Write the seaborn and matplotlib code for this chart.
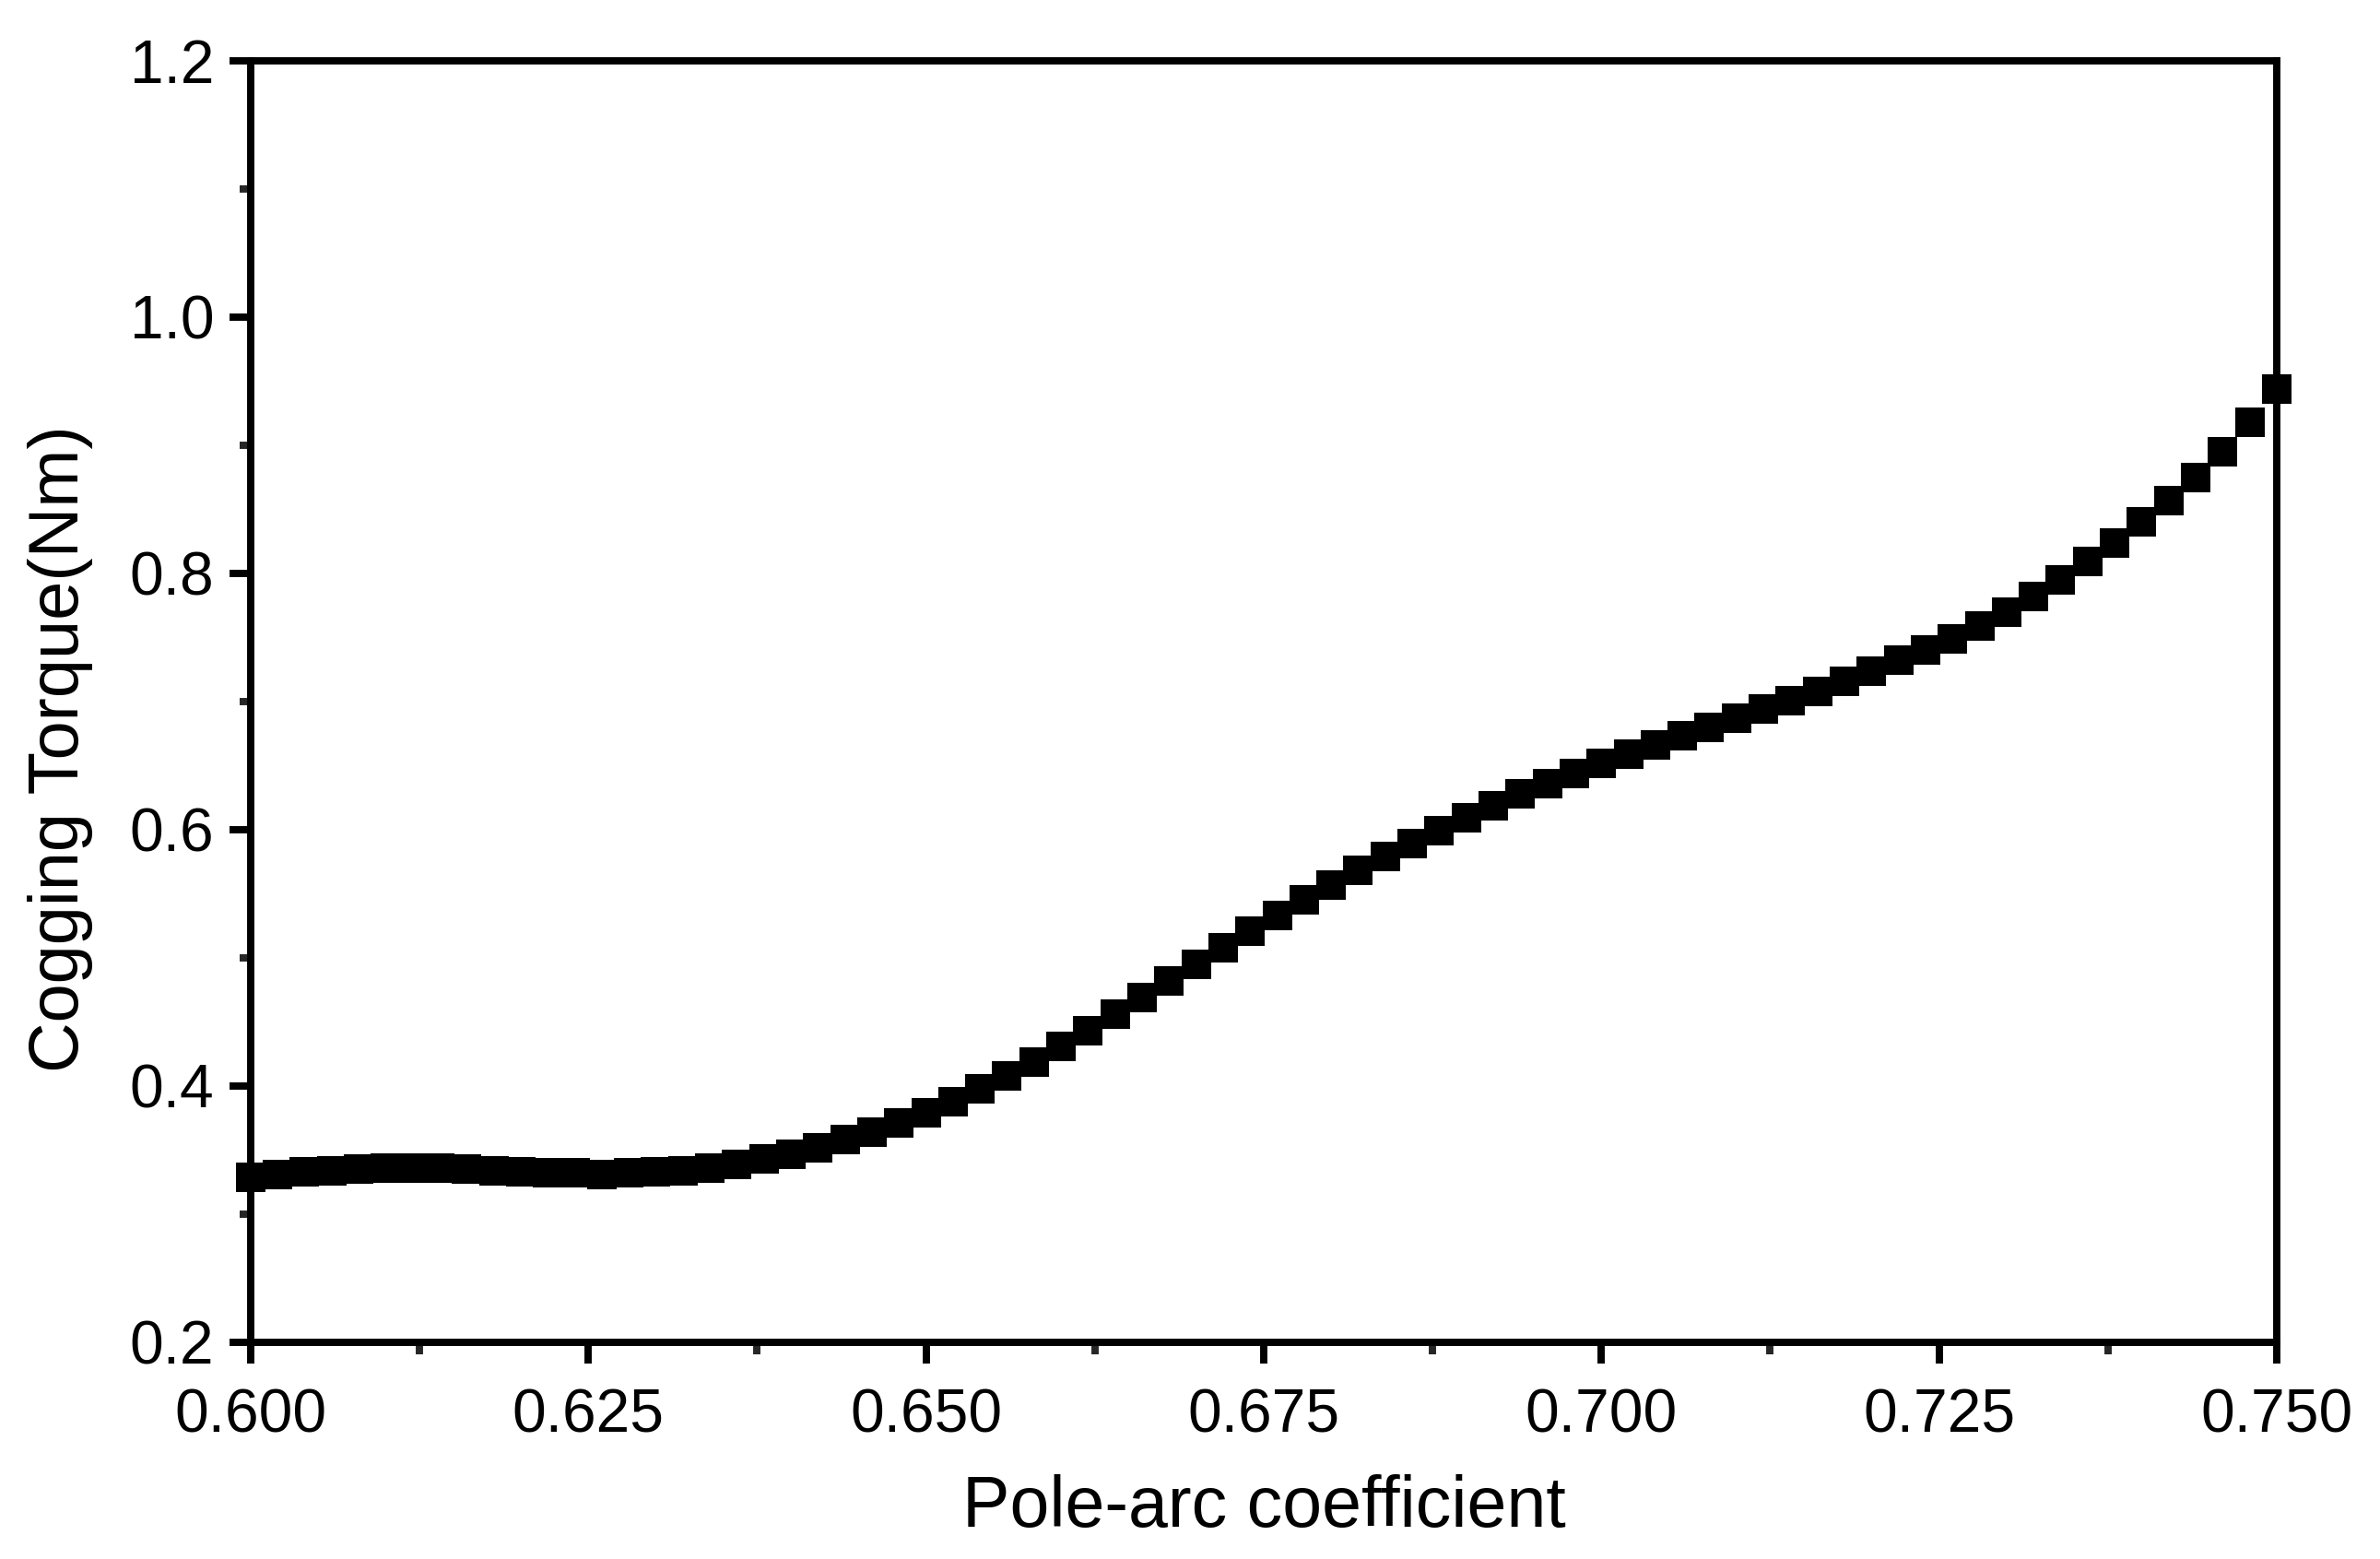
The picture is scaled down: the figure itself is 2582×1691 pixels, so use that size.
import numpy as np
import pandas as pd
import matplotlib
matplotlib.use("Agg")
import matplotlib.pyplot as plt
from matplotlib.ticker import MultipleLocator, FormatStrFormatter
import seaborn as sns

pole_arc = [0.600, 0.602, 0.604, 0.606, 0.608, 0.610, 0.612, 0.614, 0.616, 0.618,
            0.620, 0.622, 0.624, 0.626, 0.628, 0.630, 0.632, 0.634, 0.636, 0.638,
            0.640, 0.642, 0.644, 0.646, 0.648, 0.650, 0.652, 0.654, 0.656, 0.658,
            0.660, 0.662, 0.664, 0.666, 0.668, 0.670, 0.672, 0.674, 0.676, 0.678,
            0.680, 0.682, 0.684, 0.686, 0.688, 0.690, 0.692, 0.694, 0.696, 0.698,
            0.700, 0.702, 0.704, 0.706, 0.708, 0.710, 0.712, 0.714, 0.716, 0.718,
            0.720, 0.722, 0.724, 0.726, 0.728, 0.730, 0.732, 0.734, 0.736, 0.738,
            0.740, 0.742, 0.744, 0.746, 0.748, 0.750]
cogging_torque = [0.329, 0.331, 0.333, 0.334, 0.335, 0.336, 0.336, 0.336, 0.335, 0.334,
                  0.333, 0.332, 0.332, 0.331, 0.332, 0.333, 0.334, 0.336, 0.339, 0.343,
                  0.347, 0.352, 0.358, 0.364, 0.371, 0.379, 0.388, 0.398, 0.408, 0.419,
                  0.431, 0.443, 0.456, 0.469, 0.482, 0.495, 0.508, 0.521, 0.533, 0.545,
                  0.557, 0.568, 0.579, 0.589, 0.599, 0.609, 0.619, 0.628, 0.636, 0.644,
                  0.652, 0.659, 0.666, 0.673, 0.680, 0.687, 0.694, 0.701, 0.708, 0.716,
                  0.724, 0.732, 0.740, 0.749, 0.759, 0.770, 0.782, 0.795, 0.809, 0.824,
                  0.840, 0.857, 0.875, 0.895, 0.918, 0.944]

x_ticks = [0.600, 0.625, 0.650, 0.675, 0.700, 0.725, 0.750]
y_ticks = [0.2, 0.4, 0.6, 0.8, 1.0, 1.2]

sns.set_theme(style="white")
plt.rcParams['font.family'] = ['Liberation Sans', 'DejaVu Sans']

df = pd.DataFrame({"x": pole_arc, "y": cogging_torque})

fig = plt.figure(figsize=(2582/300, 1691/300), dpi=300)
ax = fig.add_axes([0.1053, 0.139, 0.8513, 0.822])

sns.scatterplot(data=df, x="x", y="y", marker="s", s=62, color="black",
                linewidth=0, ax=ax, clip_on=False, zorder=3)

ax.set_xlim(0.600, 0.750)
ax.set_ylim(0.2, 1.2)
ax.set_xticks(x_ticks)
ax.set_yticks(y_ticks)
ax.xaxis.set_major_formatter(FormatStrFormatter('%.3f'))
ax.yaxis.set_major_formatter(FormatStrFormatter('%.1f'))
ax.xaxis.set_minor_locator(MultipleLocator(0.0125))
ax.yaxis.set_minor_locator(MultipleLocator(0.1))

lw = 1.9
for s in ax.spines.values():
    s.set_visible(True)
    s.set_color("black")
    s.set_linewidth(lw)

ax.tick_params(axis='both', which='major', direction='out', length=5.5, width=lw,
               labelsize=15.8, colors='black', pad=4,
               bottom=True, left=True, top=False, right=False)
ax.tick_params(axis='x', which='major', pad=6.5)
ax.tick_params(axis='both', which='minor', direction='out', length=3, width=lw,
               bottom=True, left=True, top=False, right=False)

ax.set_xlabel("Pole-arc coefficient", fontsize=18.5, color="black")
ax.set_ylabel("Cogging Torque(Nm)", fontsize=18.2, color="black")
ax.xaxis.set_label_coords(0.5, -0.129, transform=ax.transAxes)
ax.yaxis.set_label_coords(-0.094, 0.463, transform=ax.transAxes)
ax.xaxis.label.set_va("center")
ax.yaxis.label.set_va("center")
ax.grid(False)

fig.savefig("out.png", dpi=300, facecolor="white")
